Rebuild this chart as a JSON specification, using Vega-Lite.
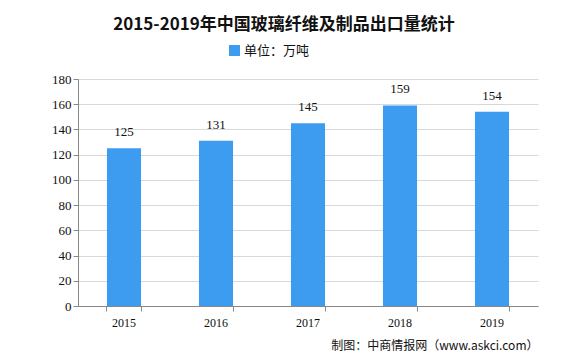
{
  "$schema": "https://vega.github.io/schema/vega-lite/v6.json",
  "width": 460,
  "height": 227,
  "autosize": {"type": "none"},
  "padding": {"left": 78, "top": 79, "right": 31, "bottom": 51},
  "background": "white",
  "title": {
    "text": "2015-2019年中国玻璃纤维及制品出口量统计",
    "font": "Noto Sans CJK SC",
    "fontSize": 17,
    "fontWeight": "bold",
    "color": "#111",
    "anchor": "middle",
    "dx": -24,
    "offset": 10
  },
  "data": {
    "values": [
      {"year": "2015", "value": 125},
      {"year": "2016", "value": 131},
      {"year": "2017", "value": 145},
      {"year": "2018", "value": 159},
      {"year": "2019", "value": 154}
    ]
  },
  "encoding": {
    "x": {
      "field": "year",
      "type": "nominal",
      "scale": {"paddingInner": 0.63, "paddingOuter": 0.315},
      "axis": {
        "labelAngle": 0,
        "labelFont": "Liberation Serif",
        "labelFontSize": 12,
        "labelColor": "#111",
        "labelPadding": 6,
        "bandPosition": 1,
        "tickExtra": true,
        "tickSize": 5,
        "tickColor": "#888",
        "domainColor": "#888",
        "title": "制图：中商情报网（www.askci.com）",
        "titleFont": "Noto Sans CJK SC",
        "titleFontSize": 12,
        "titleFontWeight": "normal",
        "titleColor": "#111",
        "titleAnchor": "end",
        "titlePadding": 12
      }
    },
    "y": {
      "field": "value",
      "type": "quantitative",
      "scale": {"domain": [0, 180]},
      "axis": {
        "values": [0, 20, 40, 60, 80, 100, 120, 140, 160, 180],
        "labelFont": "Liberation Serif",
        "labelFontSize": 13,
        "labelColor": "#111",
        "tickSize": 5,
        "tickColor": "#888",
        "domainColor": "#888",
        "gridColor": "#d9d9d9",
        "title": null
      }
    }
  },
  "layer": [
    {
      "mark": {"type": "bar", "color": "#3d9cf0"},
      "encoding": {
        "color": {
          "datum": "单位：万吨",
          "type": "nominal",
          "scale": {"range": ["#3d9cf0"]},
          "legend": {
            "orient": "none",
            "legendX": 150,
            "legendY": -35,
            "title": null,
            "symbolType": "square",
            "symbolSize": 120,
            "symbolStrokeWidth": 0,
            "labelFont": "Noto Sans CJK SC",
            "labelFontSize": 13,
            "labelColor": "#111",
            "labelOffset": 3
          }
        }
      }
    },
    {
      "mark": {"type": "text", "dy": -16, "font": "Liberation Serif", "fontSize": 13, "color": "#111"},
      "encoding": {"text": {"field": "value", "type": "quantitative"}}
    }
  ],
  "config": {"view": {"stroke": null}}
}
